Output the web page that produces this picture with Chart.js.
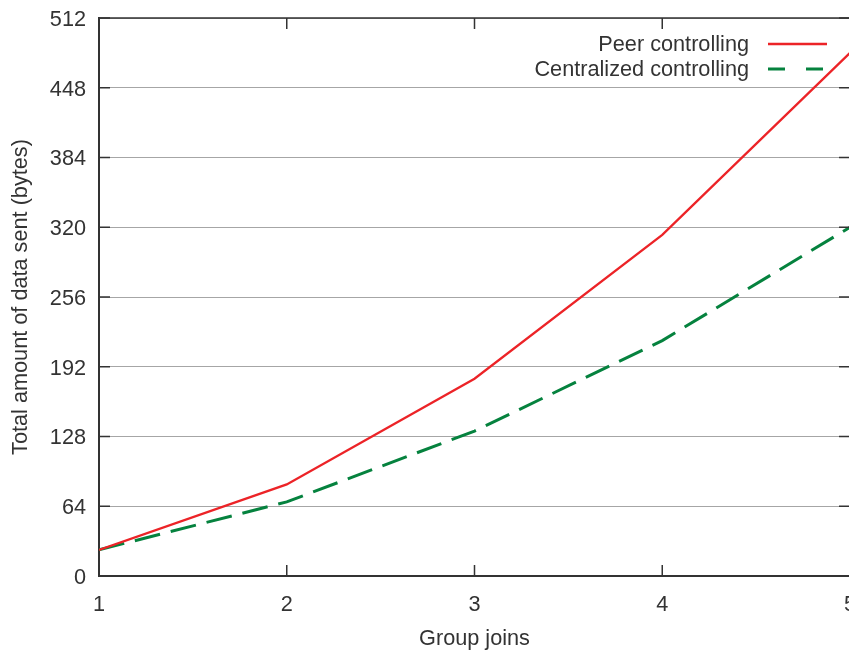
<!DOCTYPE html>
<html>
<head>
<meta charset="utf-8">
<script src="https://cdn.jsdelivr.net/npm/chart.js@4/dist/chart.umd.min.js"></script>
<style>
  html, body { margin: 0; padding: 0; background: #fff; overflow: hidden; width: 849px; height: 655px; }
  #wrap { position: absolute; left: 0; top: 0; width: 870px; height: 655px; }
</style>
</head>
<body>
<div id="wrap"><canvas id="c" width="870" height="655"></canvas></div>
<script>
const groupJoins = [1, 2, 3, 4, 5];
const peerControlling = [24, 84, 181, 313, 480];
const centralizedControlling = [24, 68, 133, 216, 320];
const yTicks = [0, 64, 128, 192, 256, 320, 384, 448, 512];
const seriesLabels = ['Peer controlling', 'Centralized controlling'];

const FONT = '"Liberation Sans", Arial, sans-serif';
const FS = 21.7;
const TXT = '#333333';

const framePlugin = {
  id: 'frame',
  afterDatasetsDraw(chart) {
    const { ctx, chartArea: a, scales } = chart;
    const x = scales.x, y = scales.y;
    ctx.save();
    ctx.strokeStyle = '#333333';
    ctx.lineWidth = 1.5;
    ctx.beginPath();
    ctx.moveTo(a.left, a.top); ctx.lineTo(a.right, a.top);
    ctx.moveTo(a.right, a.top); ctx.lineTo(a.right, a.bottom);
    ctx.stroke();
    const L = 11;
    ctx.beginPath();
    yTicks.forEach(v => {
      const py = y.getPixelForValue(v);
      ctx.moveTo(a.left, py); ctx.lineTo(a.left + L, py);
      ctx.moveTo(a.right, py); ctx.lineTo(a.right - L, py);
    });
    groupJoins.forEach(v => {
      const px = x.getPixelForValue(v);
      ctx.moveTo(px, a.bottom); ctx.lineTo(px, a.bottom - L);
      ctx.moveTo(px, a.top); ctx.lineTo(px, a.top + L);
    });
    ctx.stroke();
    ctx.font = FS + 'px ' + FONT;
    ctx.fillStyle = TXT;
    ctx.textAlign = 'right';
    ctx.textBaseline = 'middle';
    const rowY = [45, 70];
    chart.data.datasets.forEach((ds, i) => {
      ctx.fillText(ds.label, 749, rowY[i]);
      ctx.strokeStyle = ds.borderColor;
      ctx.lineWidth = ds.borderWidth;
      ctx.setLineDash(ds.legendDash || []);
      ctx.beginPath();
      ctx.moveTo(768, rowY[i] - 1); ctx.lineTo(827, rowY[i] - 1);
      ctx.stroke();
      ctx.setLineDash([]);
    });
    ctx.restore();
  }
};

new Chart(document.getElementById('c'), {
  type: 'line',
  data: {
    datasets: [
      {
        label: seriesLabels[0],
        data: groupJoins.map((g, i) => ({ x: g, y: peerControlling[i] })),
        borderColor: '#ec2327',
        borderWidth: 2.3,
        pointRadius: 0,
        tension: 0,
        fill: false
      },
      {
        label: seriesLabels[1],
        data: groupJoins.map((g, i) => ({ x: g, y: centralizedControlling[i] })),
        borderColor: '#05823e',
        borderWidth: 3,
        borderDash: [26, 11],
        legendDash: [17, 21],
        pointRadius: 0,
        tension: 0,
        fill: false
      }
    ]
  },
  options: {
    responsive: false,
    animation: false,
    events: [],
    layout: { padding: { top: 18, right: 20, left: 0, bottom: 0 } },
    plugins: { legend: { display: false }, tooltip: { enabled: false } },
    scales: {
      x: {
        type: 'linear',
        min: 1, max: 5,
        afterFit(s) { s.height = 79; s.paddingLeft = 0; s.paddingRight = 0; },
        afterBuildTicks(s) { s.ticks = groupJoins.map(v => ({ value: v })); },
        ticks: { color: TXT, font: { family: FONT, size: FS }, padding: 16, maxRotation: 0, autoSkip: false },
        grid: { display: false, drawTicks: false },
        border: { display: true, color: '#333333', width: 2 },
        title: { display: true, text: 'Group joins', color: TXT, font: { family: FONT, size: FS }, padding: { top: 0, bottom: 3 } }
      },
      y: {
        type: 'linear',
        min: 0, max: 512,
        afterFit(s) { s.width = 99; s.paddingTop = 0; s.paddingBottom = 0; },
        afterBuildTicks(s) { s.ticks = yTicks.map(v => ({ value: v })); },
        ticks: { color: TXT, font: { family: FONT, size: FS }, padding: 13, labelOffset: 2, autoSkip: false },
        grid: { display: true, drawTicks: false, color: '#a6a6a6', lineWidth: 1 },
        border: { display: true, color: '#333333', width: 2 },
        title: { display: true, text: 'Total amount of data sent (bytes)', color: TXT, font: { family: FONT, size: FS }, padding: { top: 8, bottom: 0 } }
      }
    }
  },
  plugins: [framePlugin]
});
</script>
</body>
</html>
